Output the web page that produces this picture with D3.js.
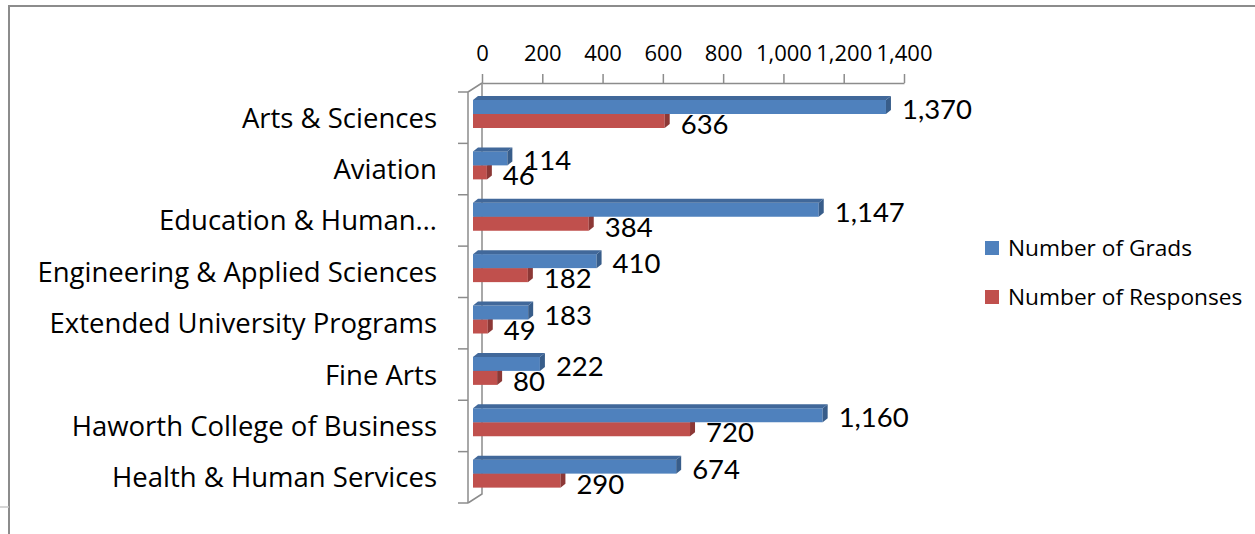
<!DOCTYPE html>
<html><head><meta charset="utf-8">
<script src="https://cdn.jsdelivr.net/npm/d3@7"></script>
<style>body{margin:0;background:#fff}svg{display:block;font-family:"Open Sans",sans-serif}</style>
</head><body>
<svg id="c" width="1255" height="534"></svg>
<script>
const categories = ["Arts & Sciences","Aviation","Education & Human…","Engineering & Applied Sciences","Extended University Programs","Fine Arts","Haworth College of Business","Health & Human Services"];
const grads = [1370,114,1147,410,183,222,1160,674];
const responses = [636,46,384,182,49,80,720,290];
const seriesNames = ["Number of Grads","Number of Responses"];
const tickValues = [0,200,400,600,800,1000,1200,1400];

const svg = d3.select("#c");
// outer frame
svg.append("path").attr("d","M9,534 V6 H1255").attr("fill","none").attr("stroke","#8c8c8c").attr("stroke-width",2);
svg.append("line").attr("x1",0).attr("x2",9).attr("y1",507).attr("y2",507).attr("stroke","#c8c8c8").attr("stroke-width",1.5);

const dx=14, dy=-9; // wall depth offset
const x = d3.scaleLinear().domain([0,1400]).range([482,904]); // back plane
const xf = d3.scaleLinear().domain([0,1400]).range([473,895]); // bar front faces
const y = d3.scaleBand().domain(categories).range([92,503]);

// walls
const wall = svg.append("g").attr("stroke","#8c8c8c").attr("stroke-width",1.5).attr("fill","none");
wall.append("path").attr("d",`M${x(0)},${y.range()[0]+dy} V${y.range()[1]+dy} L${x(0)-dx},${y.range()[1]}`);
wall.append("path").attr("d",`M${x(0)-dx},${y.range()[0]} V${y.range()[1]} M${x(0)-dx},${y.range()[0]} L${x(0)},${y.range()[0]+dy}`);
const edges = categories.map(c=>y(c)).concat([y.range()[1]]);
wall.selectAll("line.t").data(edges).join("line").attr("x1",x(0)-dx-10).attr("x2",x(0)-dx).attr("y1",d=>d).attr("y2",d=>d);

// top axis
const ax = svg.append("g").attr("transform",`translate(0,${y.range()[0]+dy})`)
  .call(d3.axisTop(x).tickValues(tickValues).tickFormat(d3.format(",")).tickSize(9).tickPadding(13).tickSizeOuter(0));
ax.select(".domain").attr("stroke","#8c8c8c").attr("stroke-width",1.5);
ax.selectAll(".tick line").attr("stroke","#8c8c8c").attr("stroke-width",1.5);
ax.selectAll(".tick text").attr("font-size",22).attr("fill","#000").attr("font-family","Open Sans");

// bars
const bh=14, bdx=5, bdy=-4;
const bars = svg.append("g");
function bar(v,top,front,side,topc){
  const x0=xf(0), x1=xf(v);
  const g=bars.append("g");
  g.append("rect").attr("x",x0).attr("y",top).attr("width",x1-x0).attr("height",bh).attr("fill",front);
  g.append("path").attr("d",`M${x1},${top} L${x1+bdx},${top+bdy} L${x1+bdx},${top+bh+bdy} L${x1},${top+bh}Z`).attr("fill",side);
  g.append("path").attr("d",`M${x0},${top} L${x0+bdx},${top+bdy} L${x1+bdx},${top+bdy} L${x1},${top}Z`).attr("fill",topc);
}
categories.forEach((c,i)=>{
  const b=y(c);
  bar(responses[i], b+22, "#C0504D","#8C3836","#a94442");
  bar(grads[i], b+8, "#4F81BD","#385D8A","#41689a");
});
// value labels
const fmt=d3.format(",");
const lab=svg.append("g").attr("font-size",27.5).attr("fill","#000").attr("font-family","Lato");
categories.forEach((c,i)=>{
  const b=y(c);
  lab.append("text").attr("x",xf(grads[i])+16).attr("y",b+27).text(fmt(grads[i]));
  lab.append("text").attr("x",xf(responses[i])+16).attr("y",b+42).text(fmt(responses[i]));
});
// category labels
svg.append("g").selectAll("text").data(categories).join("text")
  .attr("x",437).attr("y",d=>y(d)+y.bandwidth()/2+10).attr("text-anchor","end").attr("font-size",27.5).text(d=>d);

// legend
const lg=svg.append("g");
const colors=["#4F81BD","#C0504D"];
seriesNames.forEach((s,i)=>{
  lg.append("rect").attr("x",985).attr("y",241+i*49).attr("width",14).attr("height",14).attr("fill",colors[i]);
  lg.append("text").attr("x",1008).attr("y",256+i*49).attr("font-size",22.7).text(s);
});
</script>
</body></html>
